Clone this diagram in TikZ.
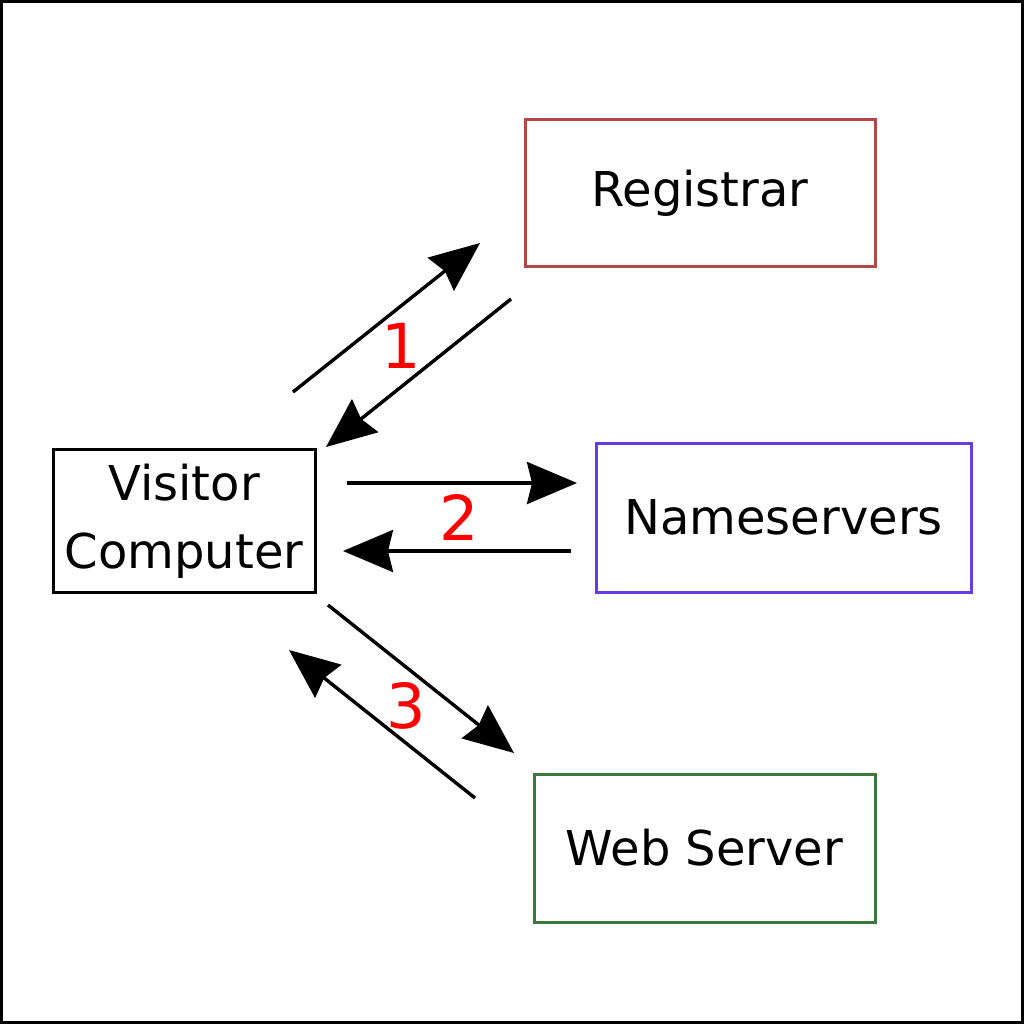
\documentclass[tikz,border=0pt]{standalone}
\usepackage{fontspec}
\setmainfont{DejaVu Sans}
\definecolor{regred}{RGB}{176, 72, 72}
\definecolor{nsblue}{RGB}{100, 60, 225}
\definecolor{webgreen}{RGB}{60, 120, 60}
\definecolor{stepred}{RGB}{255, 0, 0}
\usetikzlibrary{arrows.meta, positioning}

\begin{document}
\begin{tikzpicture}[x=0.5pt, y=-0.5pt,
  box/.style={draw, line width=1.5pt, inner sep=0pt, align=center, font=\fontsize{24}{34}\selectfont},
  flow/.style={line width=1.7pt, -{Stealth[length=25pt, width=21pt, inset=2.5pt]}},
  stepnum/.style={text=stepred, font=\fontsize{31}{31}\selectfont}]
  \useasboundingbox (0,0) rectangle (1024,1024);
  \draw[line width=1.5pt] (1.5,1.5) rectangle (1022.5,1022.5);

  % boxes
  \node[box, minimum width=131pt, minimum height=71.5pt] (visitor) at (184,521) {Visitor\\Computer};
  \node[box, draw=regred, minimum width=175pt, minimum height=73.5pt] (registrar) at (700,193) {Registrar};
  \node[box, draw=nsblue, minimum width=187.5pt, minimum height=74.5pt] (nameservers) at (783.5,517.5) {Nameservers};
  \node[box, draw=webgreen, minimum width=170.5pt, minimum height=74pt] (webserver) at (704.5,848) {Web Server};

  % arrow ends
  \coordinate (a1s) at (293,392);  \coordinate (a1e) at (480,243);
  \coordinate (b1s) at (511,299);  \coordinate (b1e) at (326,447);
  \coordinate (a2s) at (347,483);  \coordinate (a2e) at (577,483);
  \coordinate (b2s) at (571,551);  \coordinate (b2e) at (343,551);
  \coordinate (a3s) at (328,605);  \coordinate (a3e) at (514,753);
  \coordinate (b3s) at (475,798);  \coordinate (b3e) at (289,650);

  \draw[flow] (a1s) -- (a1e);
  \draw[flow] (b1s) -- (b1e);
  \draw[flow] (a2s) -- (a2e);
  \draw[flow] (b2s) -- (b2e);
  \draw[flow] (a3s) -- (a3e);
  \draw[flow] (b3s) -- (b3e);

  % step numbers
  \node[stepnum] (one) at (401,346) {1};
  \node[stepnum] (two) at (459,517) {2};
  \node[stepnum] (three) at (406,706) {3};
\end{tikzpicture}
\end{document}
